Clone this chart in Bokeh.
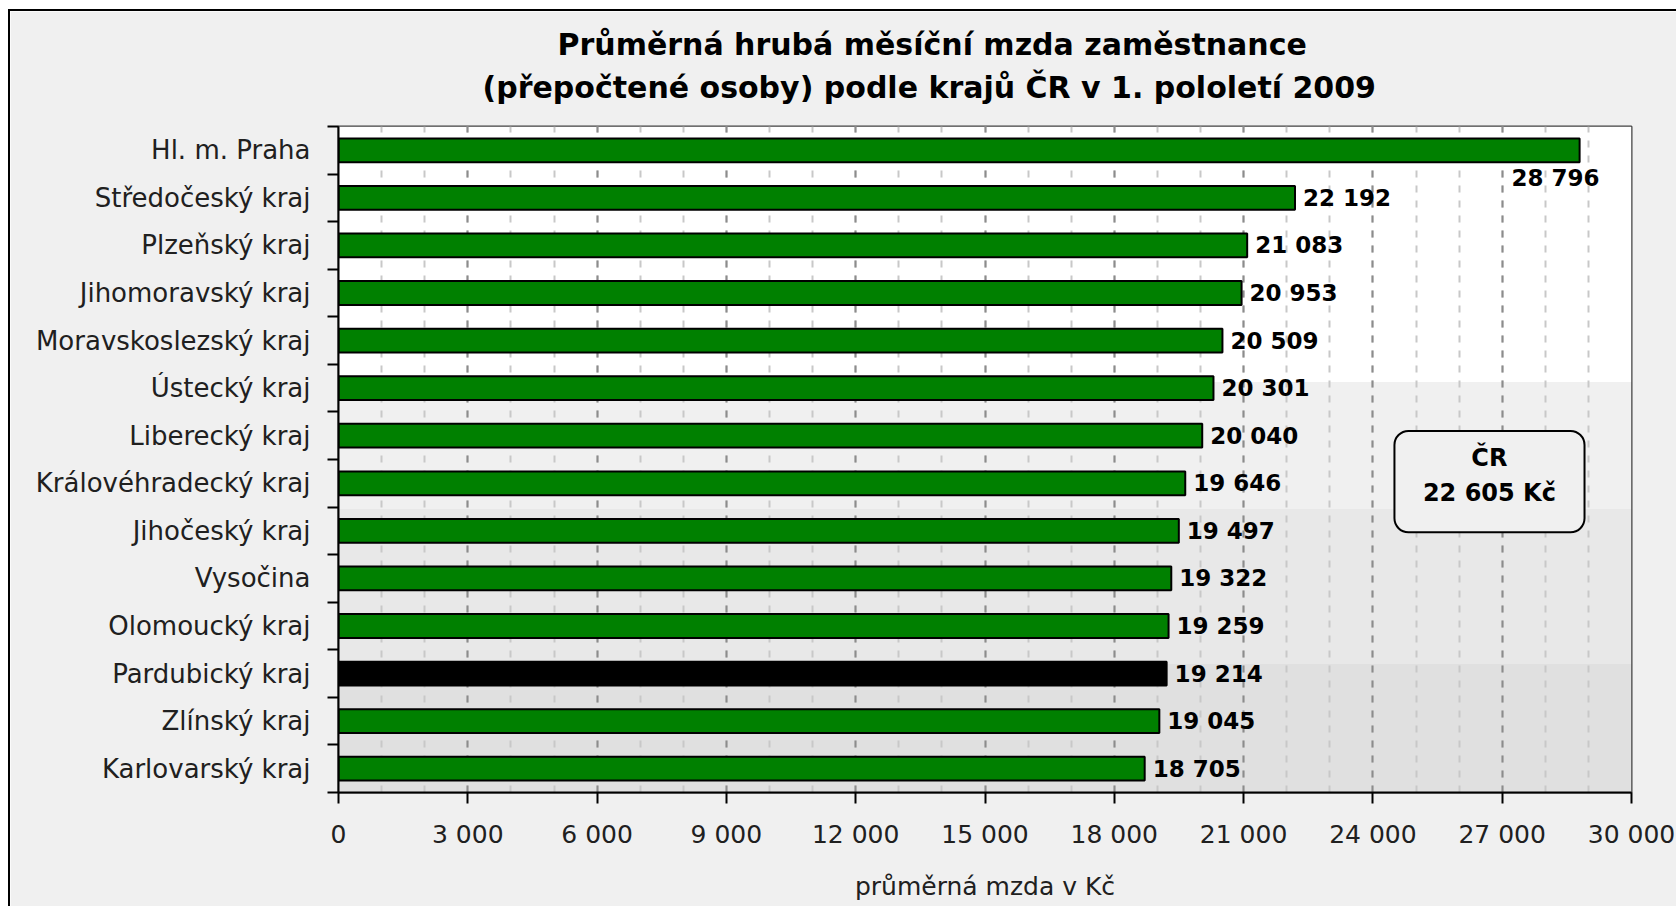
from bokeh.plotting import figure
from bokeh.models import (Range1d, FixedTicker, BoxAnnotation, Label, Title,
                          ColumnDataSource, CDSView, IndexFilter)
from bokeh.embed import file_html
from bokeh.resources import INLINE
from bokeh.core.properties import value

# ---------------- data ----------------
regions = ["Hl. m. Praha", "Středočeský kraj", "Plzeňský kraj", "Jihomoravský kraj",
           "Moravskoslezský kraj", "Ústecký kraj", "Liberecký kraj", "Královéhradecký kraj",
           "Jihočeský kraj", "Vysočina", "Olomoucký kraj", "Pardubický kraj",
           "Zlínský kraj", "Karlovarský kraj"]
wages = [28796, 22192, 21083, 20953, 20509, 20301, 20040, 19646,
         19497, 19322, 19259, 19214, 19045, 18705]
highlight = "Pardubický kraj"
cr_label = "ČR"
cr_value = 22605
x_ticks = list(range(0, 30001, 3000))
x_minor = list(range(0, 30001, 1000))
title_1 = "Průměrná hrubá měsíční mzda zaměstnance"
title_2 = "(přepočtené osoby) podle krajů ČR v 1. pololetí 2009"
x_title = "průměrná mzda v Kč"


def fmt(v):
    return f"{v:,}".replace(",", " ")


n = len(regions)
ypos = [n - 0.5 - i for i in range(n)]
colors = ["black" if r == highlight else "#008000" for r in regions]
src = ColumnDataSource(dict(y=ypos, wage=wages, name=regions, color=colors,
                            label=[fmt(w) for w in wages]))

FONT = "DejaVu Sans"

p = figure(width=1666, height=895, x_range=Range1d(0, 30000), y_range=Range1d(0, n),
           output_backend="svg", toolbar_location=None,
           min_border_left=328, min_border_right=45, min_border_top=115, min_border_bottom=114,
           background_fill_color="white", border_fill_color="#F0F0F0")
p.styles = {"margin-left": "10px", "margin-top": "11px", "outline": "2px solid #000"}
p.outline_line_color = "#404040"
p.outline_line_width = 2

# background bands (style)
for lo, hi, col in [(8.63, n, "#FFFFFF"), (5.96, 8.63, "#F0F0F0"),
                    (2.70, 5.96, "#E8E8E8"), (0, 2.70, "#E0E0E0")]:
    p.add_layout(BoxAnnotation(bottom=lo, top=hi, fill_color=col, fill_alpha=1,
                               line_color=None, level="image"))

# titles (p.title sits outermost; added ones stack outward from the frame)
p.title.text = title_1
p.title.text_font = FONT
p.title.text_font_style = "bold"
p.title.text_font_size = "30px"
p.title.text_color = "black"
p.title.align = "left"
p.title.offset = 219
p.title.standoff = 1
p.add_layout(Title(text=" ", text_font_size="10px", standoff=4), "above")
p.add_layout(Title(text=title_2, text_font=FONT, text_font_style="bold",
                   text_font_size="30px", text_color="black", align="left",
                   offset=144, standoff=10), "above")

# x axis
xt = FixedTicker(ticks=x_ticks, minor_ticks=x_minor)
p.xaxis.ticker = xt
p.xgrid.ticker = xt
p.xaxis.major_label_overrides = {t: fmt(t) for t in x_ticks}
p.xaxis.major_label_text_font = FONT
p.xaxis.major_label_text_font_size = "25px"
p.xaxis.major_label_text_color = "#202020"
p.xaxis.major_label_standoff = 16
p.xaxis.major_tick_in = 0
p.xaxis.major_tick_out = 11
p.xaxis.major_tick_line_width = 2
p.xaxis.major_tick_line_color = "black"
p.xaxis.minor_tick_line_color = None
p.xaxis.axis_line_width = 2
p.xaxis.axis_line_color = "black"
p.xaxis.axis_label = x_title
p.xaxis.axis_label_text_font = FONT
p.xaxis.axis_label_text_font_size = "25px"
p.xaxis.axis_label_text_font_style = "normal"
p.xaxis.axis_label_text_color = "#202020"
p.xaxis.axis_label_standoff = 20

# grid
p.xgrid.grid_line_color = "#8C8C8C"
p.xgrid.grid_line_width = 2
p.xgrid.grid_line_dash = "7 8"
p.xgrid.minor_grid_line_color = "#C8C8C8"
p.xgrid.minor_grid_line_width = 2
p.xgrid.minor_grid_line_dash = "7 8"
p.ygrid.visible = False

# y axis
yt = FixedTicker(ticks=ypos, minor_ticks=list(range(0, n + 1)))
p.yaxis.ticker = yt
p.yaxis.major_label_overrides = {y: r for y, r in zip(ypos, regions)}
p.yaxis.major_label_text_font = FONT
p.yaxis.major_label_text_font_size = "26px"
p.yaxis.major_label_text_color = "#202020"
p.yaxis.major_label_standoff = 17
p.yaxis.major_tick_in = 0
p.yaxis.major_tick_out = 0
p.yaxis.major_tick_line_color = None
p.yaxis.minor_tick_in = 0
p.yaxis.minor_tick_out = 11
p.yaxis.minor_tick_line_width = 2
p.yaxis.minor_tick_line_color = "black"
p.yaxis.axis_line_width = 2
p.yaxis.axis_line_color = "black"

# bars
p.hbar(y="y", left=0, right="wage", height=0.5, source=src,
       fill_color="color", line_color="black", line_width=2)

# value labels
rest = CDSView(filter=IndexFilter(list(range(1, n))))
first = CDSView(filter=IndexFilter([0]))
p.text(x="wage", y="y", text="label", source=src, view=rest, x_offset=8,
       text_align="left", text_baseline="middle", text_font=value(FONT),
       text_font_style="bold", text_font_size="23px", text_color="black")
p.text(x="wage", y="y", text="label", source=src, view=first, x_offset=20, y_offset=28,
       text_align="right", text_baseline="middle", text_font=value(FONT),
       text_font_style="bold", text_font_size="23px", text_color="black")

# ČR annotation box
p.add_layout(BoxAnnotation(left=24500, right=28910, bottom=5.47, top=7.60,
                           fill_color="#F0F0F0", fill_alpha=1, line_color="black",
                           line_alpha=1, line_width=2, border_radius=14))
p.add_layout(Label(x=26703, y=7.03, text=cr_label, text_align="center",
                   text_baseline="middle", text_font=FONT, text_font_style="bold",
                   text_font_size="24px", text_color="black"))
p.add_layout(Label(x=26703, y=6.30, text=fmt(cr_value) + " Kč", text_align="center",
                   text_baseline="middle", text_font=FONT, text_font_style="bold",
                   text_font_size="24px", text_color="black"))

open("out.html", "w").write(file_html(p, INLINE))
